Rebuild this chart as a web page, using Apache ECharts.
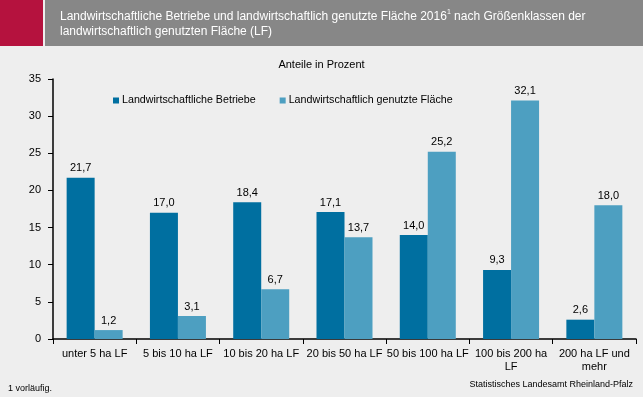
<!DOCTYPE html>
<html>
<head>
<meta charset="utf-8">
<script src="https://cdn.jsdelivr.net/npm/echarts@6/dist/echarts.min.js"></script>
<style>
  html, body { margin: 0; padding: 0; background: #eeeeee; }
  #chart { width: 643px; height: 397px; }
</style>
</head>
<body>
<div id="chart"></div>
<script>
// Daten
const categories = ['unter 5 ha LF', '5 bis 10 ha LF', '10 bis 20 ha LF', '20 bis 50 ha LF',
  '50 bis 100 ha LF', '100 bis 200 ha\nLF', '200 ha LF und\nmehr'];
const betriebe = [21.7, 17.0, 18.4, 17.1, 14.0, 9.3, 2.6];
const flaeche = [1.2, 3.1, 6.7, 13.7, 25.2, 32.1, 18.0];
const seriesNames = ['Landwirtschaftliche Betriebe', 'Landwirtschaftlich genutzte Fläche'];

const font = '"Liberation Sans", Arial, sans-serif';

const chart = echarts.init(document.getElementById('chart'));

function fmt(v) {
  return v.toFixed(1).replace('.', ',');
}

chart.setOption({
  backgroundColor: '#eeeeee',
  animation: false,
  textStyle: { fontFamily: font },
  title: {
    text: 'Anteile in Prozent',
    left: 'center',
    top: 54,
    textStyle: { fontFamily: font, fontSize: 11, fontWeight: 'normal', color: '#000' }
  },
  legend: {
    top: 90,
    left: 108,
    itemGap: 24,
    itemWidth: 6,
    itemHeight: 6,
    icon: 'rect',
    textStyle: { fontFamily: font, fontSize: 10.7, color: '#000', padding: [0, 0, 0, -2] },
    data: seriesNames
  },
  graphic: [
    { type: 'rect', left: 0, top: 0, shape: { width: 43, height: 46 }, style: { fill: '#b5123e' } },
    { type: 'rect', left: 45, top: 0, shape: { width: 598, height: 46 }, style: { fill: '#878787' } },
    {
      type: 'text', left: 60, top: 9,
      style: {
        text: '{a|Landwirtschaftliche Betriebe und landwirtschaftlich genutzte Fläche 2016}{s|1}{a| nach Größenklassen der}\n{a|landwirtschaftlich genutzten Fläche (LF)}',
        fill: '#fff',
        rich: {
          a: { fontFamily: font, fontSize: 12, color: '#fff', lineHeight: 15 },
          s: { fontFamily: font, fontSize: 7, color: '#fff', verticalAlign: 'top', lineHeight: 15, padding: [0, 0, 6, 0] }
        }
      }
    },
    {
      type: 'text', left: 8, top: 384,
      style: { text: '1 vorläufig.', fontFamily: font, fontSize: 9, fill: '#000' }
    },
    {
      type: 'text', right: 10, top: 380,
      style: { text: 'Statistisches Landesamt Rheinland-Pfalz', fontFamily: font, fontSize: 9, fill: '#000' }
    }
  ],
  grid: { left: 53, right: 7, top: 79, bottom: 58 },
  xAxis: {
    type: 'category',
    data: categories,
    axisLine: { lineStyle: { color: '#000', width: 1.5 } },
    axisTick: { show: true, alignWithLabel: false, length: 5, lineStyle: { color: '#000' } },
    axisLabel: { color: '#000', fontSize: 11, fontFamily: font, interval: 0, lineHeight: 13, margin: 8 }
  },
  yAxis: {
    type: 'value',
    min: 0,
    max: 35,
    interval: 5,
    axisLine: { show: true, lineStyle: { color: '#000', width: 1.5 } },
    axisTick: { show: true, inside: false, length: 5, lineStyle: { color: '#000' } },
    splitLine: { show: false },
    axisLabel: { color: '#000', fontSize: 11, fontFamily: font, margin: 12 }
  },
  series: [
    {
      name: seriesNames[0],
      type: 'bar',
      data: betriebe,
      barWidth: 28,
      barGap: '0%',
      itemStyle: { color: '#006fa0' },
      label: {
        show: true, position: 'top', color: '#000', fontSize: 11, fontFamily: font, distance: 4,
        formatter: p => fmt(p.value)
      }
    },
    {
      name: seriesNames[1],
      type: 'bar',
      data: flaeche,
      barWidth: 28,
      itemStyle: { color: '#4d9fc1' },
      label: {
        show: true, position: 'top', color: '#000', fontSize: 11, fontFamily: font, distance: 4,
        formatter: p => fmt(p.value)
      }
    }
  ]
});

window.addEventListener('resize', function() {
  chart.resize();
});
</script>
</body>
</html>
